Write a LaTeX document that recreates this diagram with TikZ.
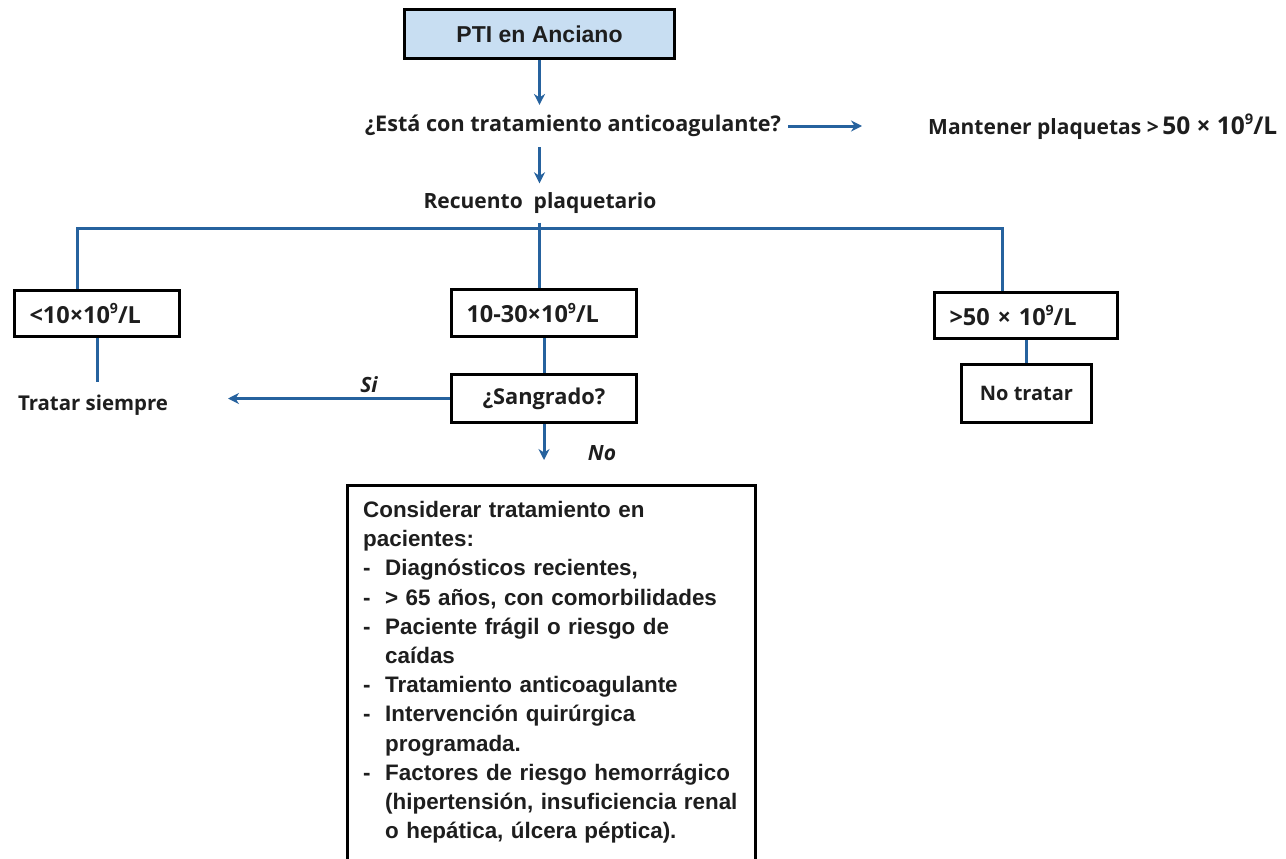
\documentclass[tikz,border=0pt]{standalone}
\usepackage{fontspec}
\setmainfont{Liberation Sans}
\newfontfamily\lblfont{Open Sans}
\usetikzlibrary{arrows.meta}
\definecolor{flowblue}{RGB}{38,98,158}
\definecolor{headfill}{RGB}{200,222,242}
\definecolor{ink}{RGB}{30,30,30}
\newcommand{\lblsize}[1]{\lblfont\bfseries\fontsize{#1}{#1}\selectfont}
% small raised nine for the 10^9/L units
\newcommand{\expnine}{\raisebox{0.42em}{\scalebox{0.6}{9}}}
\begin{document}
\begin{tikzpicture}[x=1pt,y=-1pt,
  conn/.style={draw=flowblue,line width=3pt},
  arr/.style={conn,-{Stealth[length=11pt,width=11pt]}},
  framed/.style={draw=black,line width=3pt,inner sep=0pt,anchor=north west,text=ink},
  lbl/.style={text=ink,inner sep=0pt},
  rangebox/.style={framed,font=\lblsize{23.5},inner xsep=15pt,align=left},
  answer/.style={font=\lblfont\bfseries\itshape\fontsize{21}{22}\selectfont,text=ink,inner sep=0pt},
]
\useasboundingbox[fill=white] (0,0) rectangle (1286,859);
\coordinate (pagebottom) at (0,900);

% title box
\node[framed,fill=headfill,minimum width=270pt,minimum height=49pt,
  font=\bfseries\fontsize{23}{25}\selectfont] (top) at (403,8) {PTI en Anciano};

% question and its side branch
\node[lbl,font=\lblsize{21.6},inner ysep=10pt] (q) at (573,126) {¿Está con tratamiento anticoagulante?};
\node[lbl,font=\lblsize{21},anchor=west] (m) at (928,127)
  {Mantener plaquetas >\,{\fontsize{24.5}{25}\selectfont 50 × 10\expnine/L}};
\coordinate (mtip) at (862,0);
\draw[arr] (top.south) -- (top.south |- q.north);
\draw[arr] ([xshift=7pt]q.east) -- (mtip |- q.east);

% platelet count and the three ranges
\node[lbl,font=\lblsize{21},inner ysep=9pt] (r) at (540,203) {Recuento\ \ plaquetario};
\draw[arr] (top.south |- q.south) -- (top.south |- r.north);

\node[rangebox,text width=135pt,minimum height=46pt] (low) at (13,289) {<10×10\expnine/L};
\node[rangebox,text width=155pt,minimum height=47pt] (mid) at (450,288) {10-30×10\expnine/L};
\node[rangebox,text width=153pt,minimum height=46pt] (high) at (933,291) {>50 × 10\expnine/L};

\coordinate (bus) at (0,228);
\coordinate (vl) at (77,0);
\coordinate (vr) at (1002,0);
\draw[conn] (vl |- low.north) -- (vl |- bus) -- (vr |- bus) -- (vr |- high.north);
\draw[conn] (top.south |- r.south) -- (top.south |- mid.north);

% < 10
\node[lbl,font=\lblsize{20.4},inner ysep=13pt] (tr) at (93,405) {Tratar siempre};
\coordinate (trx) at (97,0);
\draw[conn] (trx |- low.south) -- (trx |- tr.north);

% 10-30
\node[framed,font=\lblsize{21.8},minimum width=185pt,minimum height=48pt] (sang) at (450,373) {¿Sangrado?};
\draw[conn] (mid.south) -- (sang.north);
\coordinate (stip) at (228,0);
\draw[arr] (sang.west) -- (stip |- sang.west);
\node[answer] (si) at (369,385) {Si};
\coordinate (ntip) at (0,460);
\draw[arr] (sang.south) -- (sang.south |- ntip);
\node[answer] (no) at (602,453) {No};

% > 50
\node[framed,font=\lblsize{20},minimum width=130pt,minimum height=58pt] (nt) at (960,363) {No tratar};
\draw[conn] (high.south -| nt.north) -- (nt.north);

% recommendations
\node[anchor=north west,inner xsep=16pt,inner ysep=0pt,text width=380pt,align=left,
  text=ink,font=\bfseries\fontsize{22.4}{29.2}\selectfont] (cons) at (347,501)
  {Considerar tratamiento en\\
   pacientes:\\
   \makebox[22pt][l]{-}Diagnósticos recientes,\\
   \makebox[22pt][l]{-}> 65 años, con comorbilidades\\
   \makebox[22pt][l]{-}Paciente frágil o riesgo de\\
   \hspace*{22pt}caídas\\
   \makebox[22pt][l]{-}Tratamiento anticoagulante\\
   \makebox[22pt][l]{-}Intervención quirúrgica\\
   \hspace*{22pt}programada.\\
   \makebox[22pt][l]{-}Factores de riesgo hemorrágico\\
   \hspace*{22pt}(hipertensión, insuficiencia renal\\
   \hspace*{22pt}o hepática, úlcera péptica).};
\coordinate (consNW) at (347,485);
\coordinate (consNE) at (755,485);
\draw[black,line width=3pt] (consNW |- pagebottom) -- (consNW) -- (consNE) -- (consNE |- pagebottom);
\end{tikzpicture}
\end{document}
